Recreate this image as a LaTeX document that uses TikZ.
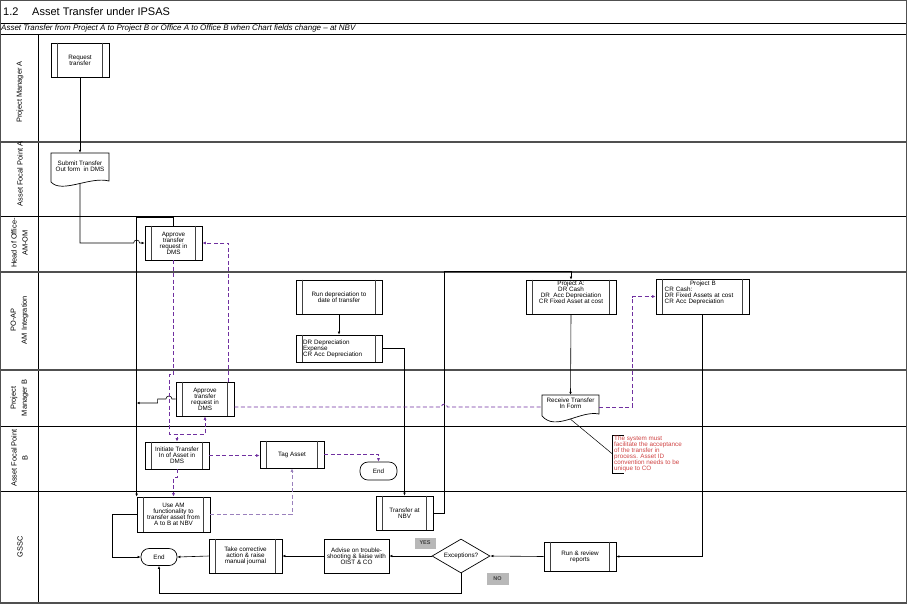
\documentclass[tikz,border=0pt]{standalone}
\usepackage{fontspec}
\setmainfont{Liberation Sans}
\usetikzlibrary{shapes.geometric,arrows.meta,calc}

\definecolor{dpurple}{HTML}{7030A0}
\definecolor{lpurple}{HTML}{9A80BC}
\definecolor{lanegray}{HTML}{505050}
\definecolor{notered}{HTML}{D04545}
\definecolor{taggray}{HTML}{B8B8B8}

\tikzset{
  conn/.style={draw=black, line width=0.6pt, -{Latex[length=3pt,width=2.6pt]}},
  plainline/.style={draw=black, line width=0.6pt},
  dconn/.style={draw=dpurple, line width=0.8pt, dash pattern=on 4pt off 2.5pt, -{Latex[length=3.5pt,width=3pt]}},
  dline/.style={draw=dpurple, line width=0.8pt, dash pattern=on 4pt off 2.5pt},
  boxtext/.style={font=\fontsize{6.3}{6}\selectfont, align=center},
  sbox/.style={draw=black, line width=0.7pt, fill=white, inner sep=0pt, boxtext},
  sinner/.style={draw=black!75, line width=0.9pt},
  pbox/.style={draw=black, line width=0.7pt, fill=white, inner sep=0pt, boxtext},
  docline/.style={draw=black, line width=0.7pt, fill=white},
  dia/.style={diamond, aspect=1.7, draw=black, line width=0.7pt, fill=white, inner sep=0pt, boxtext},
  term/.style={rectangle, rounded corners=8pt, draw=black, line width=0.7pt, fill=white, inner sep=0pt, boxtext},
  taglbl/.style={fill=taggray, inner sep=0pt, font=\bfseries\fontsize{5.5}{6}\selectfont, text=black!75},
  lanelbl/.style={rotate=90, align=center, inner sep=0pt, font=\fontsize{7.4}{11}\selectfont},
  lanethick/.style={draw=lanegray, line width=1.3pt},
  lanethin/.style={draw=black, line width=0.8pt},
  notetext/.style={text=notered, align=left, inner sep=0pt, font=\fontsize{6.3}{6}\selectfont},
}

\newcommand\sproc[6][]{%
  \node[sbox, minimum width=#4, minimum height=#5, #1] (#2) at #3 {#6};
  \draw[sinner] ([xshift=7pt]#2.north west) -- ([xshift=7pt]#2.south west)
                ([xshift=-7pt]#2.north east) -- ([xshift=-7pt]#2.south east);
}

\begin{document}
\begin{tikzpicture}[x=1pt,y=-1pt]
\useasboundingbox (0,0) rectangle (909,606);
\fill[white] (0,0) rectangle (909,606);

% ---------- frame and lanes ----------
\draw[lanethin] (0,23) -- (907,23);
\draw[lanethin] (0,34) -- (907,34);
\draw[lanethin] (38,34) -- (38,603);
\draw[lanethick] (0,142) -- (907,142);
\draw[lanethin] (0,216) -- (907,216);
\draw[lanethick] (0,272) -- (907,272);
\draw[lanethick] (0,370) -- (907,370);
\draw[lanethin] (0,426) -- (907,426);
\draw[lanethin] (0,491) -- (907,491);
\draw[lanegray, line width=1.4pt] (0.7,0.7) rectangle (906.3,603);

% ---------- titles ----------
\node[anchor=base west, inner sep=0pt, font=\fontsize{11}{12}\selectfont] (tnum) at (3,15.3) {1.2};
\node[anchor=base west, inner sep=0pt, font=\fontsize{11}{12}\selectfont] (ttl) at (32,15.3) {Asset Transfer under IPSAS};
\node[anchor=base west, inner sep=0pt, font=\itshape\fontsize{8}{8}\selectfont] (subt) at (1,30.9)
  {Asset Transfer from Project A to Project B or Office A to Office B when Chart fields change – at NBV};

% ---------- lane labels ----------
\node[lanelbl] (l1) at (20,92) {Project Manager A};
\node[lanelbl] (l2) at (20,174) {Asset Focal Point A};
\node[lanelbl] (l3) at (19.5,243) {Head of Office-\\AM-OM};
\node[lanelbl] (l4) at (19.5,320) {PO-AP\\AM Integration};
\node[lanelbl] (l5) at (19.5,398) {Project\\Manager B};
\node[lanelbl] (l6) at (19.5,458) {Asset Focal Point\\B};
\node[lanelbl] (l7) at (20,547) {GSSC};

% ---------- shapes ----------
\sproc{req}{(80,60)}{58}{34}{Request\\transfer}

\draw[docline] (51,153) -- (109,153) -- (109,181) .. controls (90,176) and (62,194) .. (51,182) -- cycle;
\node[inner sep=0pt, minimum width=58, minimum height=31] (subdoc) at (80,168.5) {};
\node[boxtext, inner sep=0pt] (subtxt) at (80,166) {Submit Transfer\\Out form\ \ in DMS};

\sproc{apprA}{(173.5,243)}{57}{34}{Approve\\transfer\\request in\\DMS}
\sproc{rundep}{(339,297)}{86}{34}{Run depreciation to\\date of transfer}
\sproc[text width=72pt, align=left]{drdep}{(339,348.5)}{86}{27}{DR Depreciation\\Expense\\CR Acc Depreciation}
\sproc{apprB}{(205,399)}{58}{34}{Approve\\transfer\\request in\\DMS}
\sproc{init}{(177,455.5)}{64}{27}{Initiate Transfer\\In of Asset in\\DMS}
\sproc{tag}{(292,454.5)}{64}{27}{Tag Asset}
\sproc{useam}{(173.5,514.5)}{73}{35}{Use AM\\functionality to\\transfer asset from\\A to B at NBV}
\sproc{tnbv}{(404.5,513)}{57}{34}{Transfer at\\NBV}
\sproc{prA}{(571,297)}{90}{34}{}
\node[boxtext, inner sep=0pt, anchor=north] (prAtxt) at (571,281) {Project A:\\DR Cash\\DR\ \ Acc Depreciation\\CR Fixed Asset at cost};
\sproc{prB}{(702.5,296.5)}{93}{35}{}
\node[boxtext, inner sep=0pt, anchor=north west, text width=77pt, align=left] (prBtxt) at (664.5,281)
  {\makebox[76.5pt]{Project B}\\CR Cash:\\DR Fixed Assets at cost\\CR Acc Depreciation};

\draw[docline] (542,395) -- (599,395) -- (599,414) .. controls (580,410) and (556,432) .. (542,416) -- cycle;
\node[inner sep=0pt, minimum width=57, minimum height=24] (recv) at (570.5,407) {};
\node[boxtext, inner sep=0pt] (recvtxt) at (570.5,403) {Receive Transfer\\In Form};

\sproc{runrev}{(580,556.5)}{72}{29}{Run \& review\\reports}
\node[dia, minimum width=58, minimum height=34] (exc) at (461,556) {Exceptions?};
\node[pbox, minimum width=65, minimum height=34] (adv) at (356.5,556) {Advise on trouble-\\shooting \& liaise with\\OIST \& CO};
\sproc{take}{(245.5,556)}{73}{34}{Take corrective\\action \& raise\\manual journal}
\node[term, minimum width=36, minimum height=17] (endG) at (159,557) {End};
\node[term, minimum width=37, minimum height=18] (endB) at (378.5,471) {End};
\node[taglbl, minimum width=21, minimum height=11] (yes) at (425,543) {YES};
\node[taglbl, minimum width=22, minimum height=12] (no) at (497.5,579) {NO};

% annotation
\coordinate (notept) at (612.5,454);
\draw[black, line width=0.5pt] (624,435.5) -- (612.5,435.5) -- (612.5,473) -- (624,473);
\node[notetext, anchor=north west] (note) at (614,436)
  {The system must\\facilitate the acceptance\\of the transfer in\\process. Asset ID\\convention needs to be\\unique to CO};
\draw[black, line width=0.5pt] (recv.south) -- (notept);

% ---------- black connectors ----------
\draw[conn] (req.south) -- (subdoc.north);
\draw[conn] (subdoc.south) -- (subdoc.south |- apprA.west) -- ([xshift=-11pt]apprA.west)
  arc[start angle=180, end angle=0, radius=3pt] -- (apprA.west);
\draw[conn] (apprA.north) -- ++(0,-8) -| (useam.north west);
\draw[conn] (apprB.west) -- ++(-3.7,0) arc[start angle=0, end angle=180, radius=3pt]
  -- ++(-8.3,0) -- ++(0,4) -- ([yshift=-4pt]apprB.west -| useam.west);
\draw[conn] (rundep.south) -- (drdep.north);
\draw[conn] (drdep.east) -| (tnbv.north);
\draw[conn] (tnbv.east) -- ++(11,0) -- ++(0,-242) -| (prA.north);
\draw[conn] (prA.south) -- (recv.north);
\draw[conn] (prB.south) |- (runrev.east);
\draw[conn] (runrev.west) -- (exc.east);
\draw[conn] (exc.west) -- (adv.east);
\draw[conn] (adv.west) -- (take.east);
\draw[conn] (take.west) -- (endG.east);
\draw[conn] (exc.south) -- ++(0,19.5) -| (endG.south);
\draw[conn] (useam.west) -- ++(-24,0) |- (endG.west);

% ---------- purple dashed connectors ----------
\draw[dconn] (apprA.south) -- ++(0,114) -- ++(-4,0) -- ++(0,60) -| (apprB.south);
\draw[dconn] (apprA.south) -- ++(0,114) -- ++(-4,0) -- ++(0,60) -| (init.north);
\draw[dconn] ([xshift=-6pt]apprB.north east) |- (apprA.east);
\draw[dconn] (init.south) -- ++(0,8) -| (useam.north);
\draw[dconn] (init.east) -- (init.east -| tag.west);
\draw[dconn] (tag.east) -| (endB.north);
\draw[dconn, draw=lpurple] (useam.east) -| (tag.south);
\draw[dline] ([yshift=-8pt]apprB.east) -- ++(207,0) arc[start angle=180, end angle=0, radius=3pt] -- (recv.west);
\draw[dconn] (recv.east) -- ++(32.7,0) |- (prB.west);
\end{tikzpicture}
\end{document}
